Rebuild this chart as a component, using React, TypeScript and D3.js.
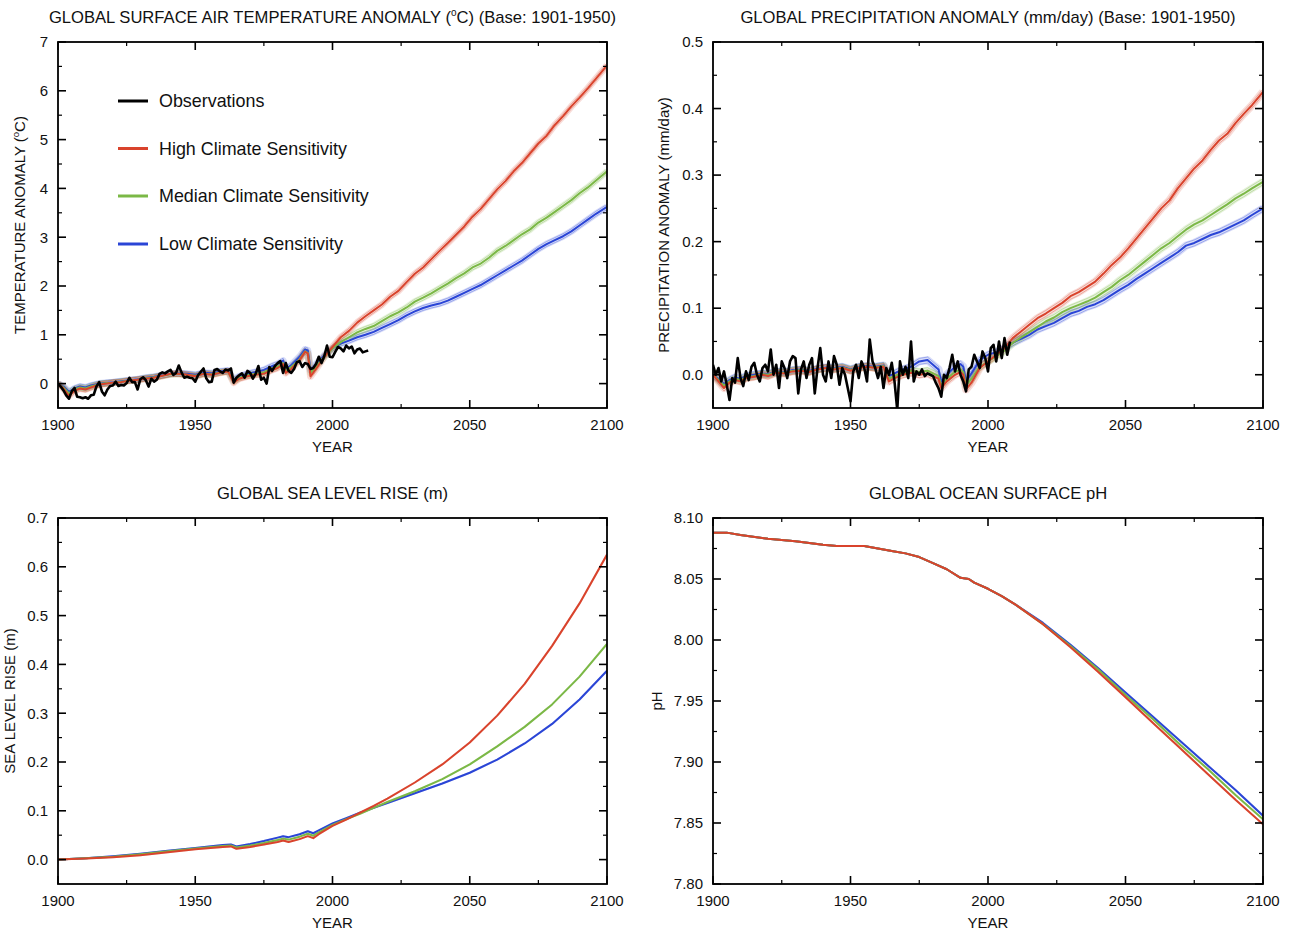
import React from "react";
import * as d3 from "d3";

// ---------- DATA ----------
const xMajor = [1900, 1950, 2000, 2050, 2100];
const xMinor = [1925, 1975, 2025, 2075];

const tempTicks = [0, 1, 2, 3, 4, 5, 6, 7];
const tempMinor = [0.5, 1.5, 2.5, 3.5, 4.5, 5.5, 6.5];
const precipTicks = [0.0, 0.1, 0.2, 0.3, 0.4, 0.5];
const precipMinor = [0.05, 0.15, 0.25, 0.35, 0.45];
const seaTicks = [0.0, 0.1, 0.2, 0.3, 0.4, 0.5, 0.6, 0.7];
const seaMinor = [0.05, 0.15, 0.25, 0.35, 0.45, 0.55, 0.65];
const phTicks = [7.8, 7.85, 7.9, 7.95, 8.0, 8.05, 8.1];
const phMinor = [7.825, 7.875, 7.925, 7.975, 8.025, 8.075];

const legendLabels = ["Observations", "High Climate Sensitivity", "Median Climate Sensitivity", "Low Climate Sensitivity"];

// model years (temperature & precipitation)
const modelYears = [
  1900, 1902, 1904, 1906, 1908, 1910, 1912, 1915, 1918, 1920,
  1923, 1926, 1929, 1932, 1935, 1938, 1941, 1944, 1947, 1950,
  1953, 1956, 1959, 1962, 1964, 1966, 1969, 1972, 1975, 1978,
  1980, 1982, 1983, 1985, 1988, 1990, 1991, 1992, 1994, 1997,
  2000, 2003, 2006, 2009, 2012, 2015, 2018, 2021, 2024, 2027,
  2030, 2033, 2036, 2039, 2042, 2045, 2048, 2051, 2054, 2057,
  2060, 2063, 2066, 2069, 2072, 2075, 2078, 2081, 2084, 2087,
  2090, 2093, 2096, 2100,
];

const tempHigh = [
  0.0, -0.1, -0.25, -0.15, -0.1, -0.12, -0.08, -0.02, 0.0, 0.02,
  0.03, 0.06, 0.08, 0.1, 0.12, 0.16, 0.2, 0.2, 0.18, 0.15,
  0.2, 0.18, 0.22, 0.25, 0.02, 0.1, 0.15, 0.18, 0.2, 0.28,
  0.32, 0.4, 0.22, 0.3, 0.48, 0.65, 0.62, 0.15, 0.3, 0.55,
  0.75, 0.95, 1.08, 1.25, 1.38, 1.5, 1.62, 1.78, 1.9, 2.08,
  2.25, 2.38, 2.55, 2.72, 2.88, 3.05, 3.22, 3.42, 3.58, 3.78,
  3.98, 4.15, 4.35, 4.52, 4.72, 4.92, 5.08, 5.3, 5.48, 5.68,
  5.86, 6.05, 6.25, 6.52,
];
const tempMed = [
  0.0, -0.08, -0.2, -0.12, -0.08, -0.1, -0.06, -0.01, 0.01, 0.02,
  0.04, 0.06, 0.08, 0.11, 0.13, 0.16, 0.19, 0.2, 0.18, 0.16,
  0.2, 0.19, 0.23, 0.25, 0.05, 0.12, 0.17, 0.2, 0.23, 0.31,
  0.35, 0.42, 0.26, 0.34, 0.5, 0.66, 0.63, 0.22, 0.35, 0.55,
  0.72, 0.85, 0.95, 1.05, 1.12, 1.18, 1.28, 1.38, 1.46, 1.56,
  1.68, 1.76, 1.85, 1.95, 2.05, 2.16, 2.26, 2.38, 2.46, 2.58,
  2.72, 2.82, 2.94, 3.06, 3.16, 3.3, 3.4, 3.52, 3.64, 3.76,
  3.9, 4.02, 4.16, 4.35,
];
const tempLow = [
  0.0, -0.06, -0.17, -0.1, -0.06, -0.08, -0.04, 0.0, 0.02, 0.03,
  0.05, 0.07, 0.09, 0.12, 0.14, 0.17, 0.2, 0.21, 0.2, 0.18,
  0.22, 0.21, 0.25, 0.27, 0.08, 0.15, 0.2, 0.24, 0.28, 0.36,
  0.4, 0.47, 0.3, 0.38, 0.55, 0.7, 0.68, 0.28, 0.4, 0.58,
  0.72, 0.82, 0.88, 0.95, 1.0, 1.06, 1.14, 1.22, 1.3, 1.4,
  1.48, 1.55, 1.6, 1.64, 1.7, 1.78, 1.86, 1.94, 2.02, 2.12,
  2.22, 2.32, 2.42, 2.52, 2.64, 2.76, 2.86, 2.94, 3.02, 3.12,
  3.24, 3.36, 3.48, 3.62,
];

// observed temperature anomaly, annual 1900-2013
const tempObsStart = 1900;
const tempObs = [
  0.0, -0.06, -0.14, -0.24, -0.31, -0.16, -0.09, -0.27, -0.28, -0.3,
  -0.28, -0.31, -0.24, -0.23, -0.06, 0.03, -0.16, -0.24, -0.12, -0.05,
  -0.04, 0.04, -0.05, -0.03, -0.04, 0.01, 0.12, 0.03, 0.03, -0.12,
  0.09, 0.13, 0.07, -0.06, 0.1, 0.04, 0.08, 0.2, 0.23, 0.21,
  0.25, 0.28, 0.18, 0.22, 0.37, 0.23, 0.12, 0.14, 0.12, 0.11,
  0.04, 0.17, 0.24, 0.31, 0.11, 0.03, 0.04, 0.28, 0.3, 0.25,
  0.22, 0.29, 0.27, 0.31, 0.02, 0.12, 0.17, 0.21, 0.12, 0.26,
  0.22, 0.1, 0.2, 0.36, 0.08, 0.12, 0.0, 0.34, 0.26, 0.36,
  0.42, 0.46, 0.22, 0.42, 0.26, 0.22, 0.3, 0.44, 0.46, 0.34,
  0.42, 0.4, 0.3, 0.32, 0.4, 0.55, 0.42, 0.56, 0.78, 0.55,
  0.54, 0.65, 0.75, 0.72, 0.66, 0.78, 0.72, 0.76, 0.62, 0.7,
  0.72, 0.64, 0.66, 0.68,
];

const precipHigh = [
  0.0, -0.01, -0.02, -0.012, -0.008, -0.01, -0.005, -0.003, 0.0, -0.002,
  0.003, 0.002, 0.005, 0.006, 0.004, 0.008, 0.01, 0.008, 0.01, 0.006,
  0.01, 0.012, 0.01, 0.012, -0.01, -0.005, 0.0, 0.003, 0.0, 0.002,
  -0.002, -0.006, -0.02, -0.01, 0.0, 0.004, 0.0, -0.022, -0.012, 0.01,
  0.02, 0.03, 0.04, 0.055, 0.065, 0.075, 0.085, 0.092, 0.1, 0.108,
  0.118, 0.124, 0.132, 0.14, 0.152, 0.165, 0.176, 0.19, 0.205, 0.22,
  0.235, 0.25, 0.262, 0.28, 0.295, 0.31, 0.322, 0.338, 0.352, 0.362,
  0.378, 0.392, 0.405, 0.425,
];
const precipMed = [
  0.0, -0.008, -0.016, -0.01, -0.006, -0.008, -0.004, -0.002, 0.001, 0.0,
  0.004, 0.003, 0.006, 0.007, 0.005, 0.008, 0.01, 0.009, 0.011, 0.007,
  0.011, 0.012, 0.011, 0.013, -0.006, -0.002, 0.003, 0.006, 0.004, 0.006,
  0.002, -0.002, -0.016, -0.006, 0.004, 0.008, 0.004, -0.016, -0.006, 0.012,
  0.02, 0.028, 0.036, 0.048, 0.056, 0.064, 0.072, 0.08, 0.086, 0.094,
  0.1, 0.105, 0.11, 0.116, 0.124, 0.132, 0.142, 0.15, 0.16, 0.17,
  0.18, 0.19, 0.198, 0.208, 0.218, 0.226, 0.232, 0.24, 0.248, 0.256,
  0.265, 0.272, 0.28, 0.29,
];
const precipLow = [
  0.0, -0.006, -0.014, -0.008, -0.004, -0.006, -0.002, 0.0, 0.002, 0.001,
  0.005, 0.004, 0.007, 0.008, 0.006, 0.009, 0.011, 0.01, 0.012, 0.008,
  0.012, 0.013, 0.012, 0.014, -0.002, 0.002, 0.008, 0.012, 0.02, 0.022,
  0.015, 0.008, -0.01, 0.0, 0.012, 0.016, 0.012, -0.01, 0.002, 0.022,
  0.03, 0.034, 0.04, 0.048, 0.054, 0.06, 0.068, 0.073, 0.078, 0.085,
  0.092, 0.096, 0.102, 0.106, 0.112, 0.12, 0.128, 0.135, 0.144, 0.152,
  0.16, 0.168, 0.176, 0.184, 0.194, 0.198, 0.204, 0.21, 0.214, 0.22,
  0.226, 0.232, 0.24, 0.25,
];

// observed precipitation anomaly, annual 1900-2008
const precipObsStart = 1900;
const precipObs = [
  0.015, 0.0, 0.01, -0.01, 0.005, -0.015, -0.038, -0.005, -0.012, 0.025,
  -0.005, -0.017, 0.005, -0.008, 0.012, 0.018, 0.0, -0.01, 0.01, 0.015,
  0.005, 0.038, 0.0, 0.015, -0.02, 0.02, 0.01, -0.005, 0.02, 0.028,
  0.025, -0.028, 0.008, 0.02, -0.005, 0.015, 0.025, -0.028, 0.01, 0.04,
  0.0, -0.01, 0.02, -0.005, 0.028, 0.015, -0.015, 0.01, 0.0, -0.02,
  -0.04, 0.005, 0.015, -0.005, 0.02, 0.01, -0.01, 0.053, 0.02, 0.01,
  -0.005, 0.012, -0.02, 0.01, 0.0, 0.018, -0.01, -0.053, 0.02, 0.0,
  0.012, -0.005, 0.05, -0.01, 0.005, 0.0, 0.008, -0.002, 0.002, 0.0,
  -0.002, -0.012, -0.02, -0.033, 0.0, -0.005, 0.01, 0.03, 0.005, 0.02,
  0.0, -0.01, -0.025, 0.008, 0.012, 0.03, 0.02, 0.01, 0.035, 0.025,
  0.005, 0.04, 0.045, 0.02, 0.05, 0.025, 0.055, 0.03, 0.05,
];

const seaYears = [
  1900, 1910, 1920, 1930, 1940, 1950, 1960, 1963, 1965, 1970,
  1975, 1980, 1982, 1984, 1988, 1991, 1993, 1995, 2000, 2005,
  2010, 2015, 2020, 2030, 2040, 2050, 2060, 2070, 2080, 2090, 2100,
];
const seaHigh = [
  0, 0.002, 0.005, 0.009, 0.015, 0.021, 0.026, 0.027, 0.022, 0.026,
  0.031, 0.036, 0.039, 0.036, 0.042, 0.048, 0.044, 0.052, 0.069, 0.082,
  0.096, 0.11, 0.125, 0.158, 0.195, 0.24, 0.295, 0.36, 0.438, 0.525, 0.625,
];
const seaMed = [
  0, 0.003, 0.006, 0.011, 0.017, 0.023, 0.028, 0.029, 0.025, 0.029,
  0.034, 0.04, 0.043, 0.041, 0.047, 0.053, 0.049, 0.056, 0.071, 0.083,
  0.094, 0.106, 0.118, 0.14, 0.165, 0.195, 0.232, 0.272, 0.318, 0.375, 0.442,
];
const seaLow = [
  0, 0.003, 0.007, 0.012, 0.018, 0.024, 0.03, 0.031, 0.027, 0.032,
  0.038, 0.045, 0.048, 0.046, 0.052, 0.058, 0.054, 0.06, 0.074, 0.085,
  0.096, 0.106, 0.116, 0.136, 0.156, 0.178, 0.205, 0.238, 0.278, 0.328, 0.387,
];

const phYears = [
  1900, 1905, 1910, 1920, 1930, 1940, 1945, 1950, 1955, 1960,
  1965, 1970, 1975, 1980, 1985, 1990, 1993, 1995, 2000, 2005,
  2010, 2020, 2030, 2040, 2050, 2060, 2070, 2080, 2090, 2100,
];
const phHigh = [
  8.088, 8.088, 8.086, 8.083, 8.081, 8.078, 8.077, 8.077, 8.077, 8.075,
  8.073, 8.071, 8.068, 8.063, 8.058, 8.051, 8.05, 8.047, 8.042, 8.036,
  8.029, 8.013, 7.994, 7.974, 7.953, 7.932, 7.911, 7.89, 7.869, 7.849,
];
const phMed = [
  8.088, 8.088, 8.086, 8.083, 8.081, 8.078, 8.077, 8.077, 8.077, 8.075,
  8.073, 8.071, 8.068, 8.063, 8.058, 8.051, 8.05, 8.047, 8.042, 8.036,
  8.029, 8.013, 7.995, 7.976, 7.955, 7.935, 7.914, 7.894, 7.873, 7.853,
];
const phLow = [
  8.088, 8.088, 8.086, 8.083, 8.081, 8.078, 8.077, 8.077, 8.077, 8.075,
  8.073, 8.071, 8.068, 8.063, 8.058, 8.051, 8.05, 8.047, 8.042, 8.036,
  8.029, 8.014, 7.996, 7.977, 7.957, 7.937, 7.917, 7.897, 7.877, 7.856,
];

// ---------- STYLE ----------
const FONT = "'Liberation Sans', Arial, Helvetica, sans-serif";
const RED = "#d9432c";
const GREEN = "#7bb846";
const BLUE = "#2a45d6";

type Series = { years: number[]; values: number[]; color: string };

type PanelProps = {
  id: string;
  x0: number; x1: number; y0: number; y1: number;
  domain: [number, number];
  ticks: number[]; minor: number[]; fmt: (v: number) => string;
  series: Series[];
  spread: number;
  obs?: { years: number[]; values: number[] };
  title: React.ReactNode;
  ylabel: React.ReactNode;
  ylabelX: number;
};

function Panel(p: PanelProps) {
  const x = d3.scaleLinear().domain([1900, 2100]).range([p.x0, p.x1]);
  const y = d3.scaleLinear().domain(p.domain).range([p.y1, p.y0]);
  const line = d3
    .line<[number, number]>()
    .x((d) => x(d[0]))
    .y((d) => y(d[1]));
  const pts = (ys: number[], vs: number[]) => ys.map((yr, i) => [yr, vs[i]] as [number, number]);
  const MAJ = 8;
  const MIN = 4;
  const cx = (p.x0 + p.x1) / 2;
  const cy = (p.y0 + p.y1) / 2;
  return (
    <g>
      <defs>
        <clipPath id={"clip-" + p.id}>
          <rect x={p.x0} y={p.y0} width={p.x1 - p.x0} height={p.y1 - p.y0} />
        </clipPath>
      </defs>
      <g clipPath={`url(#clip-${p.id})`} fill="none" strokeLinejoin="round">
        {p.series.map((s, i) => (
          <g key={"e" + i}>
            <path d={line(pts(s.years, s.values)) || ""} stroke={s.color} strokeOpacity={0.18} strokeWidth={p.spread * 2 + 2} />
            {p.spread > 0 && (
              <>
                <path transform={`translate(0,${-p.spread})`} d={line(pts(s.years, s.values)) || ""} stroke={s.color} strokeOpacity={0.45} strokeWidth={0.8} />
                <path transform={`translate(0,${p.spread})`} d={line(pts(s.years, s.values)) || ""} stroke={s.color} strokeOpacity={0.45} strokeWidth={0.8} />
              </>
            )}
          </g>
        ))}
        {p.series.map((s, i) => (
          <path key={"m" + i} d={line(pts(s.years, s.values)) || ""} stroke={s.color} strokeWidth={2} />
        ))}
        {p.obs && (
          <path d={line(pts(p.obs.years, p.obs.values)) || ""} stroke="#000" strokeWidth={2.6} />
        )}
      </g>
      {/* frame */}
      <rect x={p.x0} y={p.y0} width={p.x1 - p.x0} height={p.y1 - p.y0} fill="none" stroke="#000" strokeWidth={1.8} />
      {/* x ticks */}
      {xMajor.map((t) => (
        <g key={"xm" + t}>
          <line x1={x(t)} x2={x(t)} y1={p.y1} y2={p.y1 - MAJ} stroke="#000" strokeWidth={1.6} />
          <line x1={x(t)} x2={x(t)} y1={p.y0} y2={p.y0 + MAJ} stroke="#000" strokeWidth={1.6} />
          <text x={x(t)} y={p.y1 + 21.5} textAnchor="middle" fontSize={15} fontFamily={FONT} fill="#111">
            {t}
          </text>
        </g>
      ))}
      {xMinor.map((t) => (
        <g key={"xn" + t}>
          <line x1={x(t)} x2={x(t)} y1={p.y1} y2={p.y1 - MIN} stroke="#000" strokeWidth={1.2} />
          <line x1={x(t)} x2={x(t)} y1={p.y0} y2={p.y0 + MIN} stroke="#000" strokeWidth={1.2} />
        </g>
      ))}
      {/* y ticks */}
      {p.ticks.map((t) => (
        <g key={"ym" + t}>
          <line x1={p.x0} x2={p.x0 + MAJ} y1={y(t)} y2={y(t)} stroke="#000" strokeWidth={1.6} />
          <line x1={p.x1} x2={p.x1 - MAJ} y1={y(t)} y2={y(t)} stroke="#000" strokeWidth={1.6} />
          <text x={p.x0 - 10} y={y(t) + 5.3} textAnchor="end" fontSize={15} fontFamily={FONT} fill="#111">
            {p.fmt(t)}
          </text>
        </g>
      ))}
      {p.minor.map((t) => (
        <g key={"yn" + t}>
          <line x1={p.x0} x2={p.x0 + MIN} y1={y(t)} y2={y(t)} stroke="#000" strokeWidth={1.2} />
          <line x1={p.x1} x2={p.x1 - MIN} y1={y(t)} y2={y(t)} stroke="#000" strokeWidth={1.2} />
        </g>
      ))}
      {/* labels */}
      <text x={cx} y={p.y0 - 19.5} textAnchor="middle" fontSize={16.6} fontFamily={FONT} fill="#111">
        {p.title}
      </text>
      <text x={cx} y={p.y1 + 43.5} textAnchor="middle" fontSize={15} fontFamily={FONT} fill="#111">
        YEAR
      </text>
      <text
        transform={`translate(${p.ylabelX},${cy}) rotate(-90)`}
        textAnchor="middle"
        fontSize={15}
        fontFamily={FONT}
        fill="#111"
      >
        {p.ylabel}
      </text>
    </g>
  );
}

const yearsFrom = (start: number, n: number) => Array.from({ length: n }, (_, i) => start + i);

export default function App() {
  const fmtInt = (v: number) => d3.format("d")(v);
  const fmt1 = (v: number) => d3.format(".1f")(v);
  const fmt2 = (v: number) => d3.format(".2f")(v);

  const legendColors = ["#000", RED, GREEN, BLUE];
  const legendY = [101, 148.5, 196, 244];

  return (
    <svg
      width={1289}
      height={931}
      style={{ position: "absolute", left: 0, top: 0, background: "#fff" }}
    >
      <rect x={0} y={0} width={1289} height={931} fill="#fff" />
      <Panel
        id="t"
        x0={58} x1={607} y0={42} y1={408}
        domain={[-0.5, 7]}
        ticks={tempTicks} minor={tempMinor} fmt={fmtInt}
        spread={2.5}
        series={[
          { years: modelYears, values: tempLow, color: BLUE },
          { years: modelYears, values: tempMed, color: GREEN },
          { years: modelYears, values: tempHigh, color: RED },
        ]}
        obs={{ years: yearsFrom(tempObsStart, tempObs.length), values: tempObs }}
        title={
          <>
            GLOBAL SURFACE AIR TEMPERATURE ANOMALY (
            <tspan fontSize={10} dy={-7}>o</tspan>
            <tspan dy={7}>C) (Base: 1901-1950)</tspan>
          </>
        }
        ylabel={
          <>
            TEMPERATURE ANOMALY (
            <tspan fontSize={9.5} dy={-6}>o</tspan>
            <tspan dy={6}>C)</tspan>
          </>
        }
        ylabelX={25}
      />
      <Panel
        id="p"
        x0={713} x1={1263} y0={42} y1={408}
        domain={[-0.05, 0.5]}
        ticks={precipTicks} minor={precipMinor} fmt={fmt1}
        spread={3}
        series={[
          { years: modelYears, values: precipLow, color: BLUE },
          { years: modelYears, values: precipMed, color: GREEN },
          { years: modelYears, values: precipHigh, color: RED },
        ]}
        obs={{ years: yearsFrom(precipObsStart, precipObs.length), values: precipObs }}
        title={<>GLOBAL PRECIPITATION ANOMALY (mm/day) (Base: 1901-1950)</>}
        ylabel={<>PRECIPITATION ANOMALY (mm/day)</>}
        ylabelX={669}
      />
      <Panel
        id="s"
        x0={58} x1={607} y0={518} y1={884}
        domain={[-0.05, 0.7]}
        ticks={seaTicks} minor={seaMinor} fmt={fmt1}
        spread={0}
        series={[
          { years: seaYears, values: seaLow, color: BLUE },
          { years: seaYears, values: seaMed, color: GREEN },
          { years: seaYears, values: seaHigh, color: RED },
        ]}
        title={<>GLOBAL SEA LEVEL RISE (m)</>}
        ylabel={<>SEA LEVEL RISE (m)</>}
        ylabelX={15}
      />
      <Panel
        id="h"
        x0={713} x1={1263} y0={518} y1={884}
        domain={[7.8, 8.1]}
        ticks={phTicks} minor={phMinor} fmt={fmt2}
        spread={0}
        series={[
          { years: phYears, values: phLow, color: BLUE },
          { years: phYears, values: phMed, color: GREEN },
          { years: phYears, values: phHigh, color: RED },
        ]}
        title={<>GLOBAL OCEAN SURFACE pH</>}
        ylabel={<>pH</>}
        ylabelX={662}
      />
      {/* legend */}
      {legendLabels.map((lab, i) => (
        <g key={lab}>
          <line x1={118} x2={148} y1={legendY[i]} y2={legendY[i]} stroke={legendColors[i]} strokeWidth={3} />
          <text x={159} y={legendY[i] + 6.4} fontSize={17.9} fontFamily={FONT} fill="#111">
            {lab}
          </text>
        </g>
      ))}
    </svg>
  );
}
